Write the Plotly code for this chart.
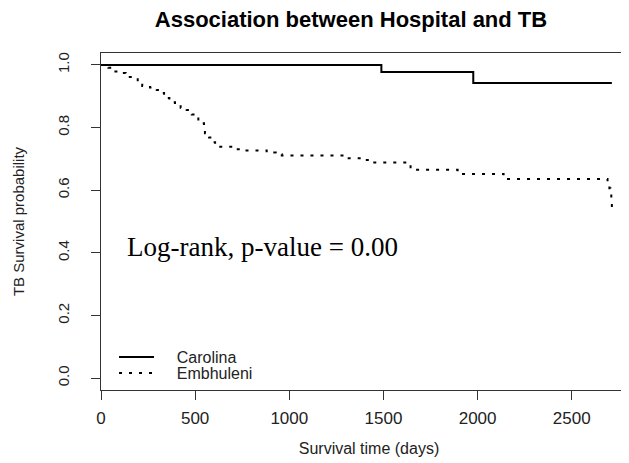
import plotly.graph_objects as go

# ---- data ----
carolina_days = [0, 1489, 1977, 2713]
carolina_surv = [1.0, 0.977, 0.942, 0.942]

emb_days = [0, 39, 60, 101, 131, 195, 219, 260, 296, 328,
            335, 363, 393, 423, 455, 482, 514, 517, 547, 552,
            574, 594, 606, 698, 742, 880, 928, 960, 1300, 1405,
            1431, 1644, 1894, 2138, 2690, 2700, 2705, 2710, 2713]
emb_surv = [1.0, 0.991, 0.979, 0.974, 0.961, 0.945, 0.933, 0.928, 0.920, 0.910,
            0.894, 0.881, 0.872, 0.863, 0.856, 0.842, 0.835, 0.814, 0.803, 0.782,
            0.768, 0.753, 0.739, 0.731, 0.727, 0.720, 0.715, 0.711, 0.702, 0.696,
            0.688, 0.665, 0.652, 0.636, 0.620, 0.606, 0.588, 0.563, 0.543]

x_ticks = [0, 500, 1000, 1500, 2000, 2500]
y_ticks = [0.0, 0.2, 0.4, 0.6, 0.8, 1.0]

title_text = "Association between Hospital and TB"
x_title = "Survival time (days)"
y_title = "TB Survival probability"
note_text = "Log-rank, p-value = 0.00"

SANS = "Liberation Sans, Arial, sans-serif"
SERIF = "Liberation Serif, Times New Roman, serif"
INK = "#222222"
AX = "#333333"
PAD = "\u00a0" * 4

# page body has an 8px margin, so the figure is laid out 8px up/left of the target
OFF = 8
W, H = 629, 463
L, T = 101 - OFF, 53 - OFF
B = H - (390 - OFF)
PW = W - L
PH = H - T - B

fig = go.Figure()
fig.add_trace(go.Scatter(x=carolina_days, y=carolina_surv, mode="lines",
                         line=dict(shape="hv", color="black", width=2),
                         name=PAD + "Carolina", legend="legend"))
fig.add_trace(go.Scatter(x=emb_days, y=emb_surv, mode="lines",
                         line=dict(shape="hv", color="black", width=2, dash="3px,7px"),
                         name=PAD + "Embhuleni", legend="legend2"))

leg_common = dict(xanchor="left", yanchor="middle", bgcolor="rgba(0,0,0,0)",
                  itemwidth=35, borderwidth=0,
                  font=dict(family=SANS, size=16, color=INK))

fig.update_layout(
    width=W, height=H,
    margin=dict(l=L, r=0, t=T, b=B, autoexpand=False),
    paper_bgcolor="white", plot_bgcolor="white",
    title=dict(text="<b>" + title_text + "</b>", x=(351 - OFF) / W, xref="container", xanchor="center",
               y=1 - (19 - OFF) / H, yref="container", yanchor="middle", automargin=False,
               font=dict(family=SANS, size=22, color="black")),
    showlegend=True,
    legend=dict(x=13 / PW, y=(390 - 357) / PH, **leg_common),
    legend2=dict(x=13 / PW, y=(390 - 373) / PH, **leg_common),
    xaxis=dict(range=[0, PW / 0.1883], tickvals=x_ticks, ticktext=[str(v) for v in x_ticks],
               automargin=False,
               showgrid=False, zeroline=False, showline=True, linecolor=AX, linewidth=1,
               mirror=True, ticks="outside", ticklen=9, tickcolor=AX, tickwidth=1,
               tickfont=dict(family=SANS, size=17, color=INK), ticklabelstandoff=4,
               title=dict(text=x_title, font=dict(family=SANS, size=16, color=INK), standoff=15)),
    yaxis=dict(range=[-0.038, 1.038], tickvals=y_ticks, ticktext=["%.1f" % v for v in y_ticks],
               automargin=False,
               showgrid=False, zeroline=False, showline=True, linecolor=AX, linewidth=1,
               mirror=False, ticks="outside", ticklen=9, tickcolor=AX, tickwidth=1,
               tickangle=-90,
               tickfont=dict(family=SANS, size=15, color=INK), ticklabelstandoff=16,
               title=dict(text=y_title, font=dict(family=SANS, size=15, color=INK), standoff=26)),
    annotations=[dict(x=128, y=0.42, xref="x", yref="y", text=note_text, showarrow=False,
                      xanchor="left", yanchor="middle",
                      font=dict(family=SERIF, size=27, color="black"))],
)

fig.write_html("out.html")
